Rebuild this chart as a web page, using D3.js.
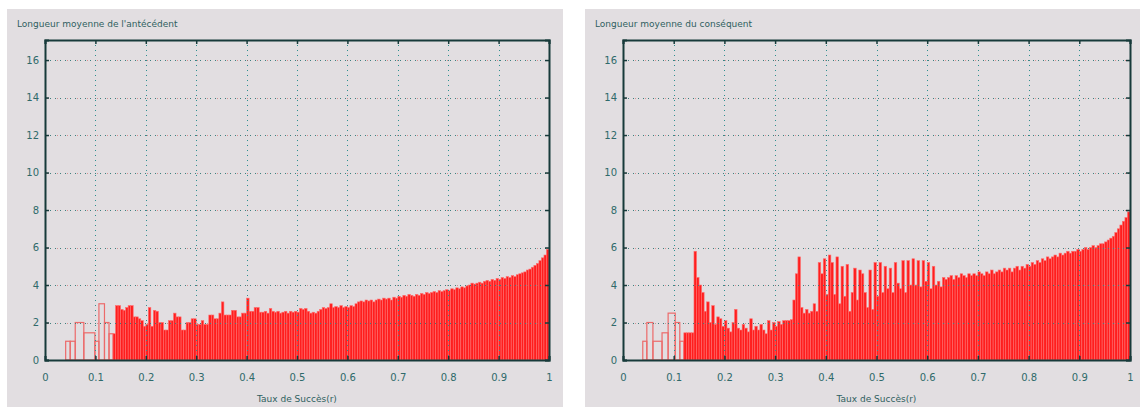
<!DOCTYPE html>
<html>
<head>
<meta charset="utf-8">
<script src="https://cdnjs.cloudflare.com/ajax/libs/d3/7.8.5/d3.min.js"></script>
<style>
  body { margin: 0; background: #ffffff; }
  svg text { font-family: "DejaVu Sans", sans-serif; }
</style>
</head>
<body>
<script>
// ---- data ----
const xTicks = [0, 0.1, 0.2, 0.3, 0.4, 0.5, 0.6, 0.7, 0.8, 0.9, 1];
const xTickLabels = ["0", "0.1", "0.2", "0.3", "0.4", "0.5", "0.6", "0.7", "0.8", "0.9", "1"];
const yTicks = [0, 2, 4, 6, 8, 10, 12, 14, 16];
const binWidth = 0.005;

// antecedent: open boxes at low success rates
const antSparseX0 = [0.041, 0.050, 0.060, 0.077, 0.099, 0.107, 0.118, 0.127];
const antSparseX1 = [0.050, 0.060, 0.077, 0.099, 0.107, 0.118, 0.127, 0.135];
const antSparseH  = [1.0, 1.0, 2.0, 1.45, 1.0, 3.0, 2.0, 1.4];
// antecedent: filled bars from 0.135, one per 0.005
const antStart = 0.135;
const antValues = [
  1.4, 2.9, 2.9, 2.7, 2.65, 2.8, 2.9, 2.9, 2.3, 2.3,
  2.2, 2.1, 1.8, 1.9, 2.8, 1.8, 2.65, 2.6, 2.0, 2.0,
  1.6, 1.6, 2.1, 2.1, 2.5, 2.3, 2.3, 1.6, 1.6, 2.0,
  2.0, 2.2, 2.2, 1.9, 1.9, 2.1, 1.9, 1.9, 2.4, 2.4,
  2.2, 2.2, 2.5, 3.1, 2.4, 2.4, 2.4, 2.65, 2.65, 2.3,
  2.3, 2.5, 2.5, 3.3, 2.6, 2.6, 2.8, 2.8, 2.55, 2.55,
  2.6, 2.5, 2.75, 2.6, 2.55, 2.6, 2.5, 2.55, 2.6, 2.5,
  2.6, 2.55, 2.6, 2.55, 2.75, 2.7, 2.75, 2.6, 2.5, 2.55,
  2.5, 2.6, 2.7, 2.8, 2.75, 2.8, 3.0, 2.8, 2.85, 2.8,
  2.9, 2.8, 2.85, 2.8, 2.9, 2.85, 3.0, 3.1, 3.15, 3.1,
  3.2, 3.15, 3.2, 3.1, 3.2, 3.25, 3.2, 3.3, 3.25, 3.3,
  3.2, 3.35, 3.3, 3.4, 3.35, 3.45, 3.4, 3.5, 3.45, 3.4,
  3.5, 3.45, 3.55, 3.5, 3.6, 3.55, 3.6, 3.65, 3.6, 3.7,
  3.65, 3.7, 3.75, 3.7, 3.8, 3.75, 3.85, 3.8, 3.9, 3.85,
  3.95, 4.0, 4.1, 4.05, 4.1, 4.15, 4.1, 4.2, 4.25, 4.2,
  4.3, 4.25, 4.35, 4.3, 4.4, 4.35, 4.45, 4.4, 4.5, 4.45,
  4.55, 4.6, 4.65, 4.7, 4.8, 4.85, 4.95, 5.05, 5.15, 5.3,
  5.45, 5.6, 5.9
];

// consequent: open boxes at low success rates
const consSparseX0 = [0.039, 0.047, 0.059, 0.077, 0.089, 0.103, 0.112];
const consSparseX1 = [0.047, 0.059, 0.077, 0.089, 0.103, 0.112, 0.120];
const consSparseH  = [1.0, 2.0, 1.0, 1.45, 2.5, 2.0, 1.0];
// consequent: filled bars from 0.12, one per 0.005
const consStart = 0.12;
const consValues = [
  1.45, 1.45, 1.45, 1.45, 5.8, 4.4, 4.0, 3.6, 2.6, 3.1,
  2.0, 2.9, 1.9, 2.3, 2.2, 1.8, 2.1, 1.7, 1.5, 2.0,
  2.7, 1.7, 1.6, 1.9, 1.7, 1.5, 2.2, 1.6, 1.8, 1.6,
  1.9, 1.6, 1.4, 2.1, 1.6, 2.0, 1.8, 2.05, 1.9, 2.1,
  2.1, 2.1, 2.15, 3.2, 4.6, 5.5, 2.8, 2.5, 2.7, 2.5,
  2.6, 3.0, 2.6, 5.2, 4.6, 5.4, 3.5, 5.6, 5.2, 3.5,
  5.5, 3.0, 5.0, 3.4, 5.1, 2.6, 3.6, 4.9, 3.2, 4.8,
  4.6, 3.6, 2.8, 4.8, 2.7, 5.2, 3.4, 5.2, 3.6, 5.0,
  3.8, 4.9, 3.6, 5.2, 4.1, 3.8, 5.3, 3.6, 5.3, 4.0,
  5.4, 4.0, 5.3, 3.9, 5.3, 4.2, 5.2, 3.8, 5.0, 4.0,
  4.2, 3.9, 4.4, 4.3, 4.4, 4.5, 4.3, 4.5, 4.4, 4.6,
  4.5, 4.4, 4.6, 4.5, 4.6, 4.5, 4.7, 4.6, 4.5, 4.7,
  4.6, 4.8, 4.6, 4.7, 4.8, 4.7, 4.9, 4.8, 4.9, 4.7,
  4.9, 5.0, 4.8, 5.0, 4.9, 5.1, 5.0, 5.2, 5.1, 5.3,
  5.2, 5.4, 5.3, 5.5, 5.4, 5.5, 5.6, 5.5, 5.7, 5.6,
  5.7, 5.8, 5.7, 5.8, 5.8, 5.9, 5.8, 5.9, 6.0, 5.9,
  6.0, 6.1, 6.0, 6.1, 6.2, 6.2, 6.3, 6.4, 6.5, 6.6,
  6.8, 7.0, 7.2, 7.4, 7.6, 7.9
];

// ---- drawing ----
var W = 1144, H = 407;
var yMax = 17.07;

var svg = d3.select("body").append("svg")
  .attr("width", W)
  .attr("height", H);

draw_panel({
  bg: [7, 9, 556, 398],
  plot: [45, 40, 549, 360],
  title: "Longueur moyenne de l'antécédent",
  sx0: antSparseX0, sx1: antSparseX1, sh: antSparseH,
  start: antStart, values: antValues
});

draw_panel({
  bg: [585, 9, 555, 398],
  plot: [623, 40, 1130, 360],
  title: "Longueur moyenne du conséquent",
  sx0: consSparseX0, sx1: consSparseX1, sh: consSparseH,
  start: consStart, values: consValues
});

function draw_panel(p) {
  var g = svg.append("g");
  var left = p.plot[0], top = p.plot[1], right = p.plot[2], bottom = p.plot[3];

  //Panel background
  g.append("rect")
    .attr("x", p.bg[0]).attr("y", p.bg[1])
    .attr("width", p.bg[2]).attr("height", p.bg[3])
    .attr("fill", "#e2dee1");

  var x = d3.scaleLinear().domain([0, 1]).range([left, right]);
  var y = d3.scaleLinear().domain([0, yMax]).range([bottom, top]);

  //Title
  g.append("text")
    .attr("x", p.bg[0] + 10).attr("y", 27)
    .attr("font-size", 9)
    .attr("fill", "#2f5f5f")
    .text(p.title);

  //Open boxes
  var sparse = p.sx0.map((d, i) => ({x0: d, x1: p.sx1[i], h: p.sh[i]}));
  g.selectAll(".sparse")
    .data(sparse)
    .enter()
    .append("rect")
      .attr("class", "sparse")
      .attr("x", d => x(d.x0))
      .attr("y", d => y(d.h))
      .attr("width", d => x(d.x1) - x(d.x0))
      .attr("height", d => y(0) - y(d.h))
      .attr("fill", "none")
      .attr("stroke", "#ec6a6a")
      .attr("stroke-width", 1.2);

  //Filled bars
  var bars = p.values.map((v, i) => ({x0: p.start + i * binWidth, h: v}));
  g.selectAll(".bar")
    .data(bars)
    .enter()
    .append("rect")
      .attr("class", "bar")
      .attr("x", d => x(d.x0))
      .attr("y", d => y(d.h))
      .attr("width", d => x(d.x0 + binWidth) - x(d.x0))
      .attr("height", d => y(0) - y(d.h))
      .attr("fill", "#ff1e1e")
      .attr("stroke", "#ff6e6e")
      .attr("stroke-width", 0.6);

  //Grid (drawn in front, dotted)
  var gx = xTicks.slice(1, -1), gy = yTicks.slice(1);
  g.selectAll(".vgrid")
    .data(gx)
    .enter()
    .append("line")
      .attr("x1", d => Math.round(x(d)) + 0.5).attr("x2", d => Math.round(x(d)) + 0.5)
      .attr("y1", top).attr("y2", bottom)
      .attr("stroke", "#2f8f8f")
      .attr("stroke-width", 1)
      .attr("stroke-dasharray", "1,4");
  g.selectAll(".hgrid")
    .data(gy)
    .enter()
    .append("line")
      .attr("x1", left).attr("x2", right)
      .attr("y1", d => Math.round(y(d)) + 0.5).attr("y2", d => Math.round(y(d)) + 0.5)
      .attr("stroke", "#3d7f7f")
      .attr("stroke-width", 1)
      .attr("stroke-dasharray", "1,4");
  g.selectAll(".hgrid2")
    .data(gy)
    .enter()
    .append("line")
      .attr("x1", left + 2).attr("x2", right)
      .attr("y1", d => Math.round(y(d)) + 0.5).attr("y2", d => Math.round(y(d)) + 0.5)
      .attr("stroke", "#d05a5a")
      .attr("stroke-opacity", 0.6)
      .attr("stroke-width", 1)
      .attr("stroke-dasharray", "1,9");

  //Axes
  var xAxisB = d3.axisBottom(x).tickValues(xTicks).tickSize(-4).tickFormat((d, i) => xTickLabels[i]);
  var xAxisT = d3.axisTop(x).tickValues(xTicks).tickSize(-4).tickFormat("");
  var yAxisL = d3.axisLeft(y).tickValues(yTicks).tickSize(-4).tickFormat(d3.format("d"));
  var yAxisR = d3.axisRight(y).tickValues(yTicks).tickSize(-4).tickFormat("");

  var axes = [
    g.append("g").attr("transform", "translate(0," + bottom + ")").call(xAxisB),
    g.append("g").attr("transform", "translate(0," + top + ")").call(xAxisT),
    g.append("g").attr("transform", "translate(" + left + ",0)").call(yAxisL),
    g.append("g").attr("transform", "translate(" + right + ",0)").call(yAxisR)
  ];
  axes.forEach(a => {
    a.select(".domain").attr("stroke", "#173a3a").attr("stroke-width", 2);
    a.selectAll(".tick line").attr("stroke", "#173a3a").attr("stroke-width", 1.5);
    a.selectAll(".tick text")
      .attr("fill", "#2f6a6a")
      .attr("font-size", 10)
      .attr("font-family", "DejaVu Sans, sans-serif");
  });
  axes[0].selectAll(".tick text").attr("dy", "1.2em").attr("y", 9);
  axes[2].selectAll(".tick text").attr("x", -6);

  //X axis title
  g.append("text")
    .attr("x", (left + right) / 2).attr("y", 402)
    .attr("text-anchor", "middle")
    .attr("font-size", 9)
    .attr("fill", "#2f5f5f")
    .text("Taux de Succès(r)");
}
</script>
</body>
</html>
